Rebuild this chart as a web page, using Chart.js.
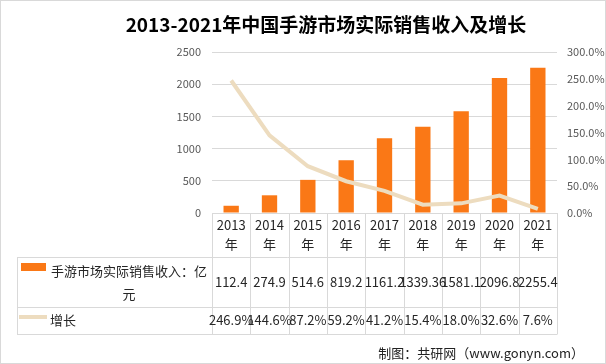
<!DOCTYPE html>
<html>
<head>
<meta charset="utf-8">
<script src="https://cdn.jsdelivr.net/npm/chart.js@4"></script>
<style>
  html, body { margin: 0; padding: 0; background: #fff; }
  #wrap { width: 606px; height: 364px; position: relative; }
</style>
</head>
<body>
<div id="wrap"><canvas id="c" width="606" height="364"></canvas></div>
<script>
const chartTitle = '2013-2021年中国手游市场实际销售收入及增长';
const footerText = '制图：共研网（www.gonyn.com）';
const categories = ['2013年', '2014年', '2015年', '2016年', '2017年', '2018年', '2019年', '2020年', '2021年'];
const revenueName = '手游市场实际销售收入：亿元';
const revenueValues = [112.4, 274.9, 514.6, 819.2, 1161.2, 1339.36, 1581.1, 2096.8, 2255.4];
const revenueLabels = ['112.4', '274.9', '514.6', '819.2', '1161.2', '1339.36', '1581.1', '2096.8', '2255.4'];
const growthName = '增长';
const growthValues = [246.9, 144.6, 87.2, 59.2, 41.2, 15.4, 18.0, 32.6, 7.6];
const leftTicks = [0, 500, 1000, 1500, 2000, 2500];
const rightTicks = [0, 50, 100, 150, 200, 250, 300];

const FONT = '"Noto Sans CJK SC", "Noto Sans", sans-serif';
const BAR_COLOR = '#FA7816';
const LINE_COLOR = '#EDDCBF';
const GRID = '#D9D9D9';
const TEXT = '#262626';

function wrapText(ctx, text, maxW) {
  const lines = [];
  let cur = '';
  for (const ch of text) {
    if (cur && ctx.measureText(cur + ch).width > maxW) { lines.push(cur); cur = ch; }
    else cur += ch;
  }
  if (cur) lines.push(cur);
  return lines;
}

const tablePlugin = {
  id: 'tablePlugin',
  beforeDraw(chart) {
    const ctx = chart.ctx;
    ctx.save();
    ctx.fillStyle = '#fff';
    ctx.fillRect(0, 0, chart.width, chart.height);
    ctx.restore();
  },
  afterDraw(chart) {
    const ctx = chart.ctx;
    const area = chart.chartArea;
    const xs = chart.scales.x;
    const n = categories.length;
    const colW = (area.right - area.left) / n;
    const top = area.bottom;
    const r1 = 257, r2 = 307, r3 = 334;
    const tableLeft = 17;
    ctx.save();
    // grid lines of the table
    ctx.strokeStyle = GRID;
    ctx.lineWidth = 1;
    ctx.beginPath();
    for (let i = 0; i <= n; i++) {
      const x = Math.round(area.left + i * colW) + 0.5;
      ctx.moveTo(x, top);
      ctx.lineTo(x, r3);
    }
    [r1, r2, r3].forEach(y => { ctx.moveTo(tableLeft, y + 0.5); ctx.lineTo(Math.round(area.right) + 0.5, y + 0.5); });
    ctx.moveTo(tableLeft + 0.5, r1);
    ctx.lineTo(tableLeft + 0.5, r3 + 0.5);
    ctx.stroke();

    ctx.fillStyle = TEXT;
    ctx.textAlign = 'center';
    ctx.textBaseline = 'middle';
    // header
    ctx.font = '13px ' + FONT;
    categories.forEach((c, i) => {
      const cx = xs.getPixelForValue(i);
      const lines = wrapText(ctx, c, colW - 4);
      lines.forEach((l, k) => ctx.fillText(l, cx, 225 + k * 19));
    });
    // row 1 values
    revenueLabels.forEach((v, i) => ctx.fillText(v, xs.getPixelForValue(i), 282));
    // row 2 values
    growthValues.forEach((v, i) => ctx.fillText(v.toFixed(1) + '%', xs.getPixelForValue(i), 320));

    // legend row 1
    ctx.fillStyle = BAR_COLOR;
    ctx.fillRect(21, 263, 25, 8);
    ctx.fillStyle = TEXT;
    const nameLines = wrapText(ctx, revenueName, 160);
    ctx.textAlign = 'left';
    ctx.fillText(nameLines[0], 51, 271);
    ctx.textAlign = 'center';
    for (let k = 1; k < nameLines.length; k++) ctx.fillText(nameLines[k], 129, 271 + k * 23);
    // legend row 2
    ctx.strokeStyle = LINE_COLOR;
    ctx.lineWidth = 4;
    ctx.beginPath();
    ctx.moveTo(19, 317);
    ctx.lineTo(47, 317);
    ctx.stroke();
    ctx.textAlign = 'left';
    ctx.fillText(growthName, 50, 320);

    // title
    ctx.font = 'bold 19px ' + FONT;
    ctx.fillStyle = '#000';
    ctx.textAlign = 'center';
    ctx.fillText(chartTitle, 326, 25);

    // footer
    ctx.font = '13px ' + FONT;
    ctx.fillStyle = '#222';
    ctx.textAlign = 'right';
    ctx.fillText(footerText, 584, 353);

    // outer border
    ctx.strokeStyle = GRID;
    ctx.lineWidth = 1;
    ctx.strokeRect(0.5, 0.5, chart.width - 1, chart.height - 1);
    ctx.restore();
  }
};

new Chart(document.getElementById('c'), {
  data: {
    labels: categories,
    datasets: [
      {
        type: 'line',
        label: growthName,
        data: growthValues,
        yAxisID: 'y1',
        borderColor: LINE_COLOR,
        backgroundColor: LINE_COLOR,
        borderWidth: 4,
        pointRadius: 0,
        tension: 0,
        order: 0
      },
      {
        type: 'bar',
        label: revenueName,
        data: revenueValues,
        yAxisID: 'y',
        backgroundColor: BAR_COLOR,
        barPercentage: 0.4,
        categoryPercentage: 1.0,
        order: 1
      }
    ]
  },
  options: {
    responsive: false,
    animation: false,
    layout: { padding: { left: 172, right: 0, top: 52, bottom: 151 } },
    plugins: { legend: { display: false }, title: { display: false }, tooltip: { enabled: false } },
    scales: {
      x: {
        ticks: { display: false },
        grid: { display: false },
        border: { display: false },
        afterFit: s => { s.height = 0; }
      },
      y: {
        position: 'left',
        min: 0, max: 2500,
        afterBuildTicks: s => { s.ticks = leftTicks.map(v => ({ value: v })); },
        ticks: { padding: 11, color: '#595959', font: { family: FONT, size: 11 }, callback: v => String(v) },
        grid: { color: GRID, drawTicks: false },
        border: { display: false },
        afterFit: s => { s.width = 40; }
      },
      y1: {
        position: 'right',
        min: 0, max: 300,
        afterBuildTicks: s => { s.ticks = rightTicks.map(v => ({ value: v })); },
        ticks: { padding: 10, color: '#595959', font: { family: FONT, size: 11 }, callback: v => v.toFixed(1) + '%' },
        grid: { display: false, drawTicks: false },
        border: { display: false },
        afterFit: s => { s.width = 49; }
      }
    }
  },
  plugins: [tablePlugin]
});
</script>
</body>
</html>
